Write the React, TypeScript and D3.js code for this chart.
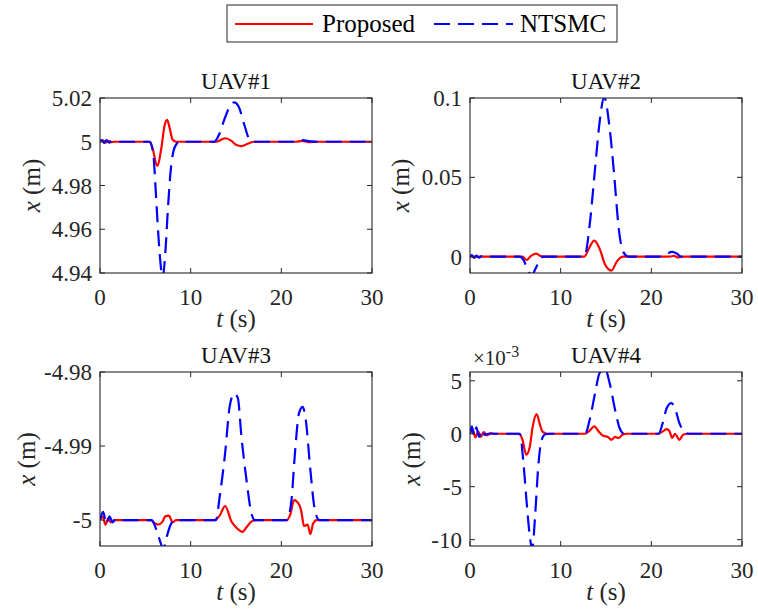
import React from "react";
import * as d3 from "d3";

// ---------- DATA (t in s, x in m) ----------
const xTicks = [0, 10, 20, 30];

const uav1Proposed: [number, number][] = [
  [0, 5.0], [0.3, 5.0006], [0.6, 4.9996], [0.9, 5.0004], [1.2, 4.9998], [1.6, 5.0], [5.4, 5.0], [5.8, 4.997], [6.3, 4.989],
  [6.8, 4.998], [7.1, 5.007], [7.4, 5.010], [7.7, 5.006], [8.0, 5.001], [8.4, 5.0], [12.8, 5.0], [13.8, 5.0016],
  [14.5, 5.0004], [15.0, 4.9986], [15.6, 4.998], [16.3, 4.9991], [17.0, 5.0], [21.6, 5.0], [22.3, 5.0004], [23.0, 4.9998],
  [24.0, 5.0], [30, 5.0],
];
const uav1NTSMC: [number, number][] = [
  [0, 5.0], [0.2, 5.0008], [0.45, 4.9995], [0.7, 5.0007], [1.0, 4.9996], [1.3, 5.0004], [1.6, 5.0], [5.5, 5.0],
  [5.9, 4.9935], [6.1, 4.981], [6.35, 4.963], [6.6, 4.948], [6.9, 4.938], [7.2, 4.949], [7.5, 4.970], [7.8, 4.987],
  [8.3, 4.998], [8.8, 5.0], [12.6, 5.0], [13.1, 5.003], [13.7, 5.010], [14.3, 5.016], [14.8, 5.018], [15.3, 5.016],
  [15.9, 5.008], [16.5, 5.001], [17.0, 5.0], [21.8, 5.0], [22.3, 5.0007], [23.0, 5.0003], [24.0, 5.0], [30, 5.0],
];

const uav2Proposed: [number, number][] = [
  [0, 0], [5.8, 0], [6.25, -0.0021], [6.7, 0.0004], [7.3, 0.0019], [7.8, 0.0003], [8.2, 0], [12.6, 0], [13.1, 0.005],
  [13.7, 0.0101], [14.3, 0.005], [14.9, -0.005], [15.6, -0.0088], [16.2, -0.003], [16.9, 0], [22.0, 0], [22.5, 0.0005],
  [23.0, -0.0005], [23.5, 0], [30, 0],
];
const uav2NTSMC: [number, number][] = [
  [0, 0], [0.2, 0.001], [0.45, -0.0008], [0.7, 0.0006], [1.0, -0.0006], [1.3, 0.0003], [1.6, 0], [5.5, 0],
  [5.9, -0.002], [6.3, -0.0075], [6.8, -0.0115], [7.2, -0.008], [7.6, -0.003], [8.1, 0], [12.5, 0], [12.7, 0.001],
  [13.2, 0.02], [13.8, 0.056], [14.3, 0.085], [14.8, 0.1005], [15.4, 0.081], [15.9, 0.0515], [16.4, 0.018],
  [16.9, 0.003], [17.5, 0], [20.8, 0], [21.5, 0.0012], [22.3, 0.003], [22.8, 0.002], [23.3, 0], [30, 0],
];

const uav3Proposed: [number, number][] = [
  [0, -5.0], [0.3, -4.9995], [0.6, -5.0006], [0.9, -4.9998], [1.2, -5.0003], [1.6, -5.0], [5.6, -5.0], [6.0, -5.0004],
  [6.4, -5.0006], [6.9, -5.0002], [7.2, -4.9995], [7.6, -4.9994], [8.0, -5.0003], [8.4, -5.0], [12.6, -5.0],
  [13.2, -4.9994], [13.8, -4.9981], [14.5, -5.0002], [15.1, -5.0011], [15.7, -5.0016], [16.2, -5.0009],
  [16.7, -5.0002], [17.2, -5.0], [20.6, -5.0], [21.0, -4.9992], [21.4, -4.9973], [22.0, -4.998], [22.2, -4.9988],
  [22.5, -5.0008], [22.9, -5.0006], [23.2, -5.0019], [23.5, -5.0005], [23.9, -5.0], [30, -5.0],
];
const uav3NTSMC: [number, number][] = [
  [0, -5.0], [0.35, -4.9989], [0.7, -5.0005], [1.05, -4.9995], [1.4, -5.0003], [1.8, -4.9998], [2.2, -5.0], [5.7, -5.0],
  [6.0, -5.0006], [6.4, -5.002], [7.0, -5.0038], [7.35, -5.0023], [7.7, -5.0009], [8.2, -5.0], [12.8, -5.0],
  [13.2, -4.99685], [13.8, -4.99097], [14.3, -4.98467], [14.8, -4.9829], [15.2, -4.9835], [15.6, -4.98873],
  [16.2, -4.995], [16.7, -4.9991], [17.1, -5.0], [20.6, -5.0], [21.1, -4.9975], [21.5, -4.991], [21.95, -4.98556],
  [22.35, -4.9847], [22.7, -4.9865], [23.2, -4.9932], [23.7, -4.99865], [24.2, -5.0], [30, -5.0],
];

// UAV#4 values in units of 1e-3 m
const uav4Proposed: [number, number][] = [
  [0, 0], [0.3, 0.4], [0.6, -0.35], [0.9, 0.2], [1.2, -0.3], [1.5, 0.15], [1.9, -0.15], [2.3, 0.05], [2.7, 0],
  [5.4, 0], [5.8, -0.6], [6.2, -1.98], [6.6, -1.2], [6.9, 0.6], [7.35, 1.86], [7.7, 0.9], [8.0, 0.2], [8.5, 0],
  [12.7, 0], [13.2, 0.3], [13.7, 0.69], [14.2, 0.2], [14.7, -0.2], [15.2, -0.3], [15.6, -0.57], [16.0, -0.3],
  [16.4, -0.4], [16.8, -0.1], [17.3, 0], [20.8, 0], [21.3, 0.25], [21.7, 0.44], [22.0, 0.25], [22.3, -0.4],
  [22.6, 0.0], [23.1, -0.57], [23.5, -0.1], [24.0, 0], [30, 0],
];
const uav4NTSMC: [number, number][] = [
  [0, 0], [0.2, 0.7], [0.45, -0.2], [0.7, 0.6], [1.0, -0.3], [1.3, 0.4], [1.6, -0.1], [2.0, 0], [5.5, 0],
  [5.9, -2.8], [6.25, -6.5], [6.6, -9.7], [6.85, -10.9], [7.2, -7.5], [7.5, -3.4], [7.9, -0.6], [8.3, -0.05],
  [8.7, 0], [12.7, 0], [13.2, 1.32], [13.8, 3.85], [14.3, 5.74], [14.9, 6.1], [15.4, 4.79], [16.0, 2.27],
  [16.5, 0.54], [17.0, 0], [20.8, 0], [21.25, 1.0], [21.7, 2.43], [22.2, 2.9], [22.6, 2.43], [23.1, 1.0],
  [23.6, 0.2], [24.1, 0], [30, 0],
];

const titles = ["UAV#1", "UAV#2", "UAV#3", "UAV#4"];
const yTicks1 = [4.94, 4.96, 4.98, 5, 5.02];
const yTickLabels1 = ["4.94", "4.96", "4.98", "5", "5.02"];
const yTicks2 = [0, 0.05, 0.1];
const yTickLabels2 = ["0", "0.05", "0.1"];
const yTicks3 = [-5, -4.99, -4.98];
const yTickLabels3 = ["-5", "-4.99", "-4.98"];
const yTicks4 = [-10, -5, 0, 5];
const yTickLabels4 = ["-10", "-5", "0", "5"];
const legendLabels = ["Proposed", "NTSMC"];

// ---------- STYLE ----------
const FONT = "Liberation Serif, Times New Roman, serif";
const AX = "#262626";
const RED = "#ff0000";
const BLUE = "#0000ff";
const DASH = "16,8";

type PanelProps = {
  id: string;
  left: number; right: number; top: number; bottom: number;
  domain: [number, number];
  ticks: number[]; tickLabels: string[];
  title: string;
  proposed: [number, number][];
  ntsmc: [number, number][];
  ylabelX: number;
  exponent?: boolean;
};

const txt = (size: number, fill = AX): React.CSSProperties => ({ fontFamily: FONT, fontSize: size, fill });

function Panel(p: PanelProps) {
  const x = d3.scaleLinear().domain([0, 30]).range([p.left, p.right]);
  const y = d3.scaleLinear().domain(p.domain).range([p.bottom, p.top]);
  const line = d3
    .line<[number, number]>()
    .x((d) => x(d[0]))
    .y((d) => y(d[1]))
    .curve(d3.curveMonotoneX);
  const tl = 5;
  const w = p.right - p.left;
  const h = p.bottom - p.top;
  return (
    <g>
      <defs>
        <clipPath id={p.id}>
          <rect x={p.left} y={p.top} width={w} height={h} />
        </clipPath>
      </defs>
      <g clipPath={`url(#${p.id})`}>
        <path d={line(p.proposed) || ""} fill="none" stroke={RED} strokeWidth={2.2} />
        <path d={line(p.ntsmc) || ""} fill="none" stroke={BLUE} strokeWidth={2.2} strokeDasharray={DASH} />
      </g>
      {xTicks.map((t) => (
        <g key={"xt" + t}>
          <line x1={x(t)} x2={x(t)} y1={p.bottom} y2={p.bottom - tl} stroke={AX} strokeWidth={1} />
          <line x1={x(t)} x2={x(t)} y1={p.top} y2={p.top + tl} stroke={AX} strokeWidth={1} />
          <text x={x(t)} y={p.bottom + 32} textAnchor="middle" style={txt(23)}>
            {t}
          </text>
        </g>
      ))}
      {p.ticks.map((t, i) => (
        <g key={"yt" + i}>
          <line x1={p.left} x2={p.left + tl} y1={y(t)} y2={y(t)} stroke={AX} strokeWidth={1} />
          <line x1={p.right} x2={p.right - tl} y1={y(t)} y2={y(t)} stroke={AX} strokeWidth={1} />
          <text x={p.left - 8} y={y(t)} dy="0.35em" textAnchor="end" style={txt(23)}>
            {p.tickLabels[i]}
          </text>
        </g>
      ))}
      <rect x={p.left} y={p.top} width={w} height={h} fill="none" stroke={AX} strokeWidth={1.1} />
      <text x={(p.left + p.right) / 2} y={p.top - 9} textAnchor="middle" style={txt(23, "#111")}>
        {p.title}
      </text>
      <text x={(p.left + p.right) / 2} y={p.bottom + 54} textAnchor="middle" style={txt(25)}>
        <tspan style={{ fontStyle: "italic" }}>t</tspan> (s)
      </text>
      <text
        transform={`translate(${p.ylabelX},${(p.top + p.bottom) / 2}) rotate(-90)`}
        textAnchor="middle"
        style={txt(25)}
      >
        <tspan style={{ fontStyle: "italic" }}>x</tspan> (m)
      </text>
      {p.exponent && (
        <text x={p.left + 3} y={p.top - 7} style={txt(21)}>
          ×10
          <tspan style={{ fontSize: 16 }} dy={-8}>-3</tspan>
        </text>
      )}
    </g>
  );
}

export default function App() {
  return (
    <svg width={758} height={614} style={{ display: "block", position: "absolute", left: 0, top: 0, background: "#fff", fontFamily: FONT }}>
      <rect x={0} y={0} width={758} height={614} fill="#fff" />
      <rect x={227} y={5} width={390} height={37} fill="#fff" stroke={AX} strokeWidth={1} />
      <line x1={235} x2={313} y1={24} y2={24} stroke={RED} strokeWidth={2.2} />
      <text x={322} y={32} style={txt(25, "#000")}>{legendLabels[0]}</text>
      <line x1={434} x2={513} y1={24} y2={24} stroke={BLUE} strokeWidth={2.2} strokeDasharray={DASH} />
      <text x={520} y={32} style={txt(25, "#000")}>{legendLabels[1]}</text>

      <Panel id="c1" left={100} right={372} top={98} bottom={273} domain={[4.94, 5.02]} ticks={yTicks1}
        tickLabels={yTickLabels1} title={titles[0]} proposed={uav1Proposed} ntsmc={uav1NTSMC} ylabelX={40} />
      <Panel id="c2" left={470} right={742} top={98} bottom={273} domain={[-0.0103, 0.1]} ticks={yTicks2}
        tickLabels={yTickLabels2} title={titles[1]} proposed={uav2Proposed} ntsmc={uav2NTSMC} ylabelX={409} />
      <Panel id="c3" left={100} right={372} top={372} bottom={546} domain={[-5.0035, -4.98]} ticks={yTicks3}
        tickLabels={yTickLabels3} title={titles[2]} proposed={uav3Proposed} ntsmc={uav3NTSMC} ylabelX={35} />
      <Panel id="c4" left={470} right={742} top={372} bottom={546} domain={[-10.6, 5.83]} ticks={yTicks4}
        tickLabels={yTickLabels4} title={titles[3]} proposed={uav4Proposed} ntsmc={uav4NTSMC} ylabelX={420} exponent />
    </svg>
  );
}
